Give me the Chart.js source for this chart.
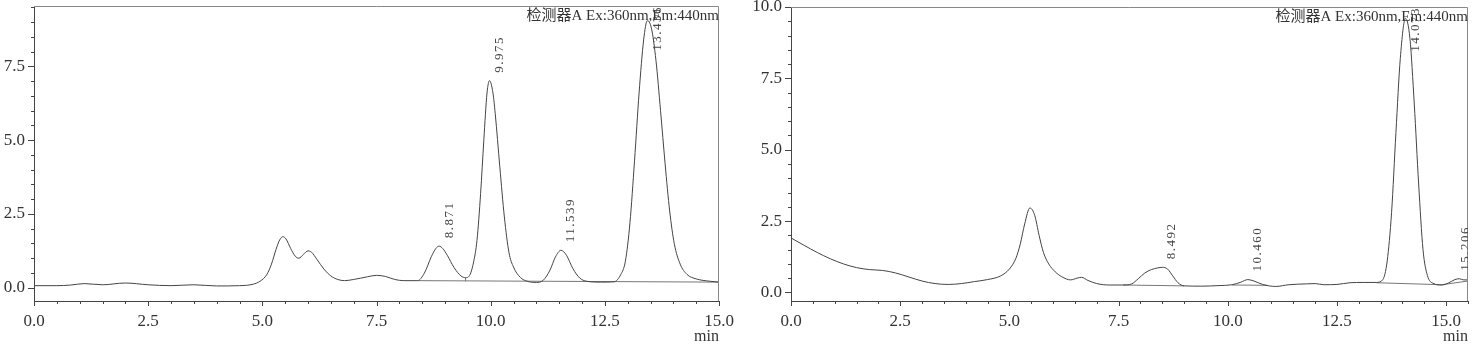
<!DOCTYPE html>
<html>
<head>
<meta charset="utf-8">
<script src="https://cdn.jsdelivr.net/npm/chart.js@4"></script>
<style>
  html, body { margin: 0; padding: 0; background: #fff; }
  #wrap { display: flex; width: 1472px; height: 346px; }
  .panel { position: relative; height: 346px; }
</style>
</head>
<body>
<div id="wrap">
  <div class="panel" style="width:740px"><canvas id="chartA"></canvas></div>
  <div class="panel" style="width:732px"><canvas id="chartB"></canvas></div>
</div>
<script>
// Cromatograma izquierdo (tiempo en min, señal)
const leftTimes = [0.0, 0.5, 0.8, 1.1, 1.5, 2.0, 2.5, 3.0, 3.5, 4.0, 4.5, 4.8, 4.95, 5.1, 5.2, 5.3, 5.38, 5.45, 5.52, 5.62,
  5.72, 5.8, 5.9, 6.0, 6.08, 6.2, 6.35, 6.5, 6.65, 6.8, 7.0, 7.3, 7.5, 7.7, 7.9, 8.1, 8.4, 8.55, 8.7, 8.8,
  8.87, 8.95, 9.05, 9.2, 9.35, 9.45, 9.55, 9.63, 9.7, 9.78, 9.85, 9.92, 9.975, 10.05, 10.1, 10.2, 10.3, 10.4, 10.5, 10.65,
  10.8, 11.0, 11.15, 11.3, 11.42, 11.54, 11.66, 11.8, 11.95, 12.1, 12.4, 12.7, 12.85, 12.95, 13.05, 13.15, 13.25, 13.35, 13.43, 13.52,
  13.62, 13.72, 13.82, 13.92, 14.02, 14.15, 14.3, 14.5, 14.8, 15.0];
const leftSignal = [0.07, 0.07, 0.09, 0.14, 0.1, 0.16, 0.1, 0.07, 0.1, 0.06, 0.07, 0.12, 0.22, 0.45, 0.8, 1.3, 1.62, 1.73, 1.65, 1.33,
  1.07, 1.0, 1.13, 1.25, 1.2, 0.95, 0.63, 0.4, 0.28, 0.24, 0.28, 0.37, 0.42, 0.38, 0.28, 0.24, 0.24, 0.5, 1.05, 1.33,
  1.41, 1.33, 1.1, 0.68, 0.4, 0.34, 0.45, 0.9, 1.6, 3.2, 5.0, 6.6, 7.02, 6.6, 5.9, 4.1, 2.4, 1.2, 0.7, 0.35,
  0.22, 0.18, 0.25, 0.6, 1.05, 1.27, 1.1, 0.65, 0.33, 0.22, 0.19, 0.2, 0.45, 0.9, 2.2, 4.3, 6.6, 8.4, 9.05, 8.8,
  7.7, 6.0, 4.2, 2.6, 1.5, 0.8, 0.45, 0.3, 0.22, 0.19];
const leftBaseTimes = [8.4, 15.0, null, 9.45, 9.45];
const leftBaseSignal = [0.24, 0.19, null, 0.22, 0.34];
const leftPeakTimes = [8.871, 9.975, 11.539, 13.436];
const leftPeakHeights = [1.41, 7.02, 1.27, 9.05];
const leftPeakLabels = ['8.871', '9.975', '11.539', '13.436'];
const leftYTicks = [0, 2.5, 5, 7.5];

// Cromatograma derecho
const rightTimes = [0.0, 0.3, 0.6, 0.9, 1.2, 1.5, 1.8, 2.1, 2.4, 2.7, 3.0, 3.3, 3.6, 3.9, 4.2, 4.5, 4.8, 5.0, 5.15, 5.25,
  5.35, 5.47, 5.58, 5.68, 5.78, 5.9, 6.05, 6.2, 6.4, 6.55, 6.65, 6.8, 7.0, 7.3, 7.6, 7.8, 7.95, 8.1, 8.25, 8.4,
  8.5, 8.62, 8.74, 8.86, 9.0, 9.4, 9.8, 10.1, 10.3, 10.46, 10.6, 10.8, 11.1, 11.4, 11.8, 12.0, 12.2, 12.5, 12.8, 13.1,
  13.4, 13.55, 13.65, 13.75, 13.85, 13.95, 14.07, 14.17, 14.27, 14.37, 14.47, 14.57, 14.7, 14.9, 15.05, 15.2, 15.3, 15.4, 15.5];
const rightSignal = [1.91, 1.65, 1.4, 1.18, 1.0, 0.87, 0.8, 0.77, 0.68, 0.54, 0.4, 0.31, 0.28, 0.31, 0.38, 0.45, 0.58, 0.82, 1.2, 1.7,
  2.4, 2.96, 2.7, 2.0, 1.4, 1.0, 0.72, 0.55, 0.44, 0.5, 0.53, 0.42, 0.31, 0.26, 0.26, 0.3, 0.48, 0.68, 0.8, 0.86,
  0.88, 0.82, 0.58, 0.34, 0.23, 0.22, 0.24, 0.27, 0.36, 0.45, 0.4, 0.28, 0.21, 0.27, 0.3, 0.31, 0.27, 0.28, 0.34, 0.35,
  0.35, 0.45, 1.1, 2.8, 5.6, 8.2, 9.6, 8.9, 6.6, 3.8, 1.5, 0.6, 0.32, 0.26, 0.33, 0.45, 0.48, 0.44, 0.44];
const rightBaseTimes = [7.6, 9.0, null, 10.1, 10.9, null, 13.4, 14.9, 15.5];
const rightBaseSignal = [0.26, 0.23, null, 0.26, 0.25, null, 0.34, 0.27, 0.4];
const rightPeakTimes = [8.492, 10.46, 14.073, 15.206];
const rightPeakHeights = [0.88, 0.45, 9.6, 0.48];
const rightPeakLabels = ['8.492', '10.460', '14.073', '15.206'];
const rightYTicks = [0, 2.5, 5, 7.5, 10];

const xTicks = [0, 2.5, 5, 7.5, 10, 12.5, 15];
const detectorTitle = '检测器A Ex:360nm,Em:440nm';
const xUnit = 'min';

const toPoints = (xs, ys) => xs.map((t, i) => ({ x: t === null ? NaN : t, y: ys[i] }));

// Dibujo los ticks menores/mayores, el marco, las etiquetas de picos y el título
const chromPlugin = {
  id: 'chrom',
  afterDraw(chart, args, opts) {
    const { ctx, chartArea: a, scales: { x, y } } = chart;
    const isMajor = v => Math.abs(v / 2.5 - Math.round(v / 2.5)) < 1e-6;
    ctx.save();
    ctx.lineWidth = 1;
    ctx.strokeStyle = '#888';
    ctx.beginPath();
    ctx.moveTo(a.left, a.top + 0.5);
    ctx.lineTo(a.right - 0.5, a.top + 0.5);
    ctx.lineTo(a.right - 0.5, a.bottom);
    ctx.stroke();

    ctx.strokeStyle = '#444';
    ctx.beginPath();
    for (let v = Math.ceil(y.min / 0.5) * 0.5; v <= y.max + 1e-9; v += 0.5) {
      const py = Math.round(y.getPixelForValue(v)) + 0.5;
      const len = isMajor(v) ? 6 : 3;
      ctx.moveTo(a.left - len, py);
      ctx.lineTo(a.left, py);
    }
    for (let v = 0; v <= x.max + 1e-9; v += 0.5) {
      const px = Math.round(x.getPixelForValue(v)) + 0.5;
      const len = isMajor(v) ? 5 : 3;
      ctx.moveTo(px, a.bottom);
      ctx.lineTo(px, a.bottom + len);
    }
    ctx.stroke();

    // etiquetas de los picos (giradas)
    ctx.save();
    ctx.beginPath();
    ctx.rect(a.left, a.top, a.right - a.left, a.bottom - a.top);
    ctx.clip();
    ctx.fillStyle = '#444';
    ctx.font = '13px "Liberation Serif"';
    ctx.letterSpacing = '1.5px';
    ctx.textBaseline = 'middle';
    ctx.textAlign = 'left';
    opts.times.forEach((t, i) => {
      const w = ctx.measureText(opts.labels[i]).width;
      const px = x.getPixelForValue(t) + 10;
      const bottom = Math.max(y.getPixelForValue(opts.heights[i]) - 8, a.top + w);
      ctx.save();
      ctx.translate(px, bottom);
      ctx.rotate(-Math.PI / 2);
      ctx.fillText(opts.labels[i], 0, 0);
      ctx.restore();
    });
    ctx.restore();

    ctx.fillStyle = '#333';
    ctx.font = '15px "Liberation Serif", "Noto Sans CJK SC"';
    ctx.textAlign = 'right';
    ctx.textBaseline = 'alphabetic';
    ctx.fillText(detectorTitle, a.right, a.top + 14);
    ctx.font = '16px "Liberation Serif"';
    ctx.fillText(xUnit, a.right, chart.height - 5);
    ctx.restore();
  }
};

function makeChart(id, times, signal, baseT, baseS, peaks, yTicks, yMin, yMax, xMax, yWidth, pad) {
  return new Chart(document.getElementById(id), {
    type: 'line',
    data: {
      datasets: [{
        data: toPoints(times, signal),
        borderColor: '#444',
        borderWidth: 1,
        pointRadius: 0,
        cubicInterpolationMode: 'monotone'
      }, {
        data: toPoints(baseT, baseS),
        borderColor: '#777',
        borderWidth: 1,
        pointRadius: 0,
        spanGaps: false
      }]
    },
    options: {
      responsive: true,
      maintainAspectRatio: false,
      animation: false,
      layout: { padding: pad },
      plugins: { legend: { display: false }, tooltip: { enabled: false }, chrom: peaks },
      scales: {
        x: {
          type: 'linear', min: 0, max: xMax,
          grid: { drawOnChartArea: false, drawTicks: false },
          border: { display: true, color: '#444' },
          afterBuildTicks: s => { s.ticks = xTicks.map(v => ({ value: v })); },
          ticks: {
            autoSkip: false, maxRotation: 0, padding: 10,
            color: '#333', font: { family: '"Liberation Serif"', size: 17 },
            callback: v => v.toFixed(1)
          },
          afterFit: s => { s.height = 45; s.paddingLeft = 0; s.paddingRight = 0; }
        },
        y: {
          min: yMin, max: yMax,
          grid: { drawOnChartArea: false, drawTicks: false },
          border: { display: true, color: '#444' },
          afterBuildTicks: s => { s.ticks = yTicks.map(v => ({ value: v })); },
          ticks: {
            autoSkip: false, padding: 9,
            color: '#333', font: { family: '"Liberation Serif"', size: 17 },
            callback: v => v.toFixed(1)
          },
          afterFit: s => { s.width = yWidth; s.paddingTop = 0; s.paddingBottom = 0; }
        }
      }
    },
    plugins: [chromPlugin]
  });
}

makeChart('chartA', leftTimes, leftSignal, leftBaseTimes, leftBaseSignal,
  { times: leftPeakTimes, heights: leftPeakHeights, labels: leftPeakLabels }, leftYTicks,
  -0.45, 9.55, 15, 34, { top: 6, right: 21, left: 0, bottom: 0 });

makeChart('chartB', rightTimes, rightSignal, rightBaseTimes, rightBaseSignal,
  { times: rightPeakTimes, heights: rightPeakHeights, labels: rightPeakLabels }, rightYTicks,
  -0.3, 10.0, 15.5, 51, { top: 7, right: 4, left: 0, bottom: 0 });
</script>
</body>
</html>
